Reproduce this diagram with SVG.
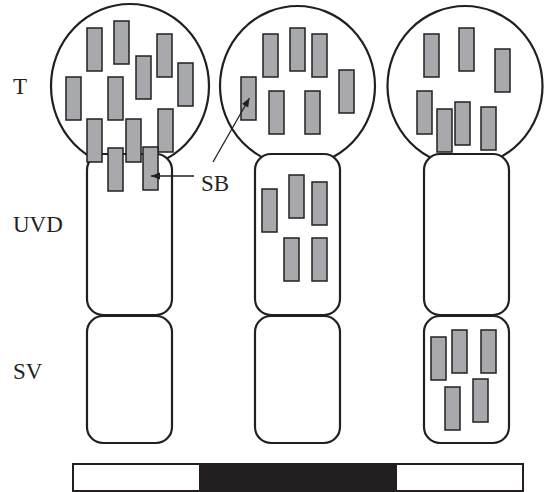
<svg xmlns="http://www.w3.org/2000/svg" width="544" height="492" viewBox="0 0 544 492">
<defs>
<style>
.cell{fill:#fff;stroke:#231f20;stroke-width:2.2}
.sb{fill:#a7a9ac;stroke:#231f20;stroke-width:1.5}
.lbl{font-family:"Liberation Serif","Times New Roman",serif;font-size:23px;fill:#231f20}
.arr{stroke:#231f20;stroke-width:1.3;fill:none}
</style>
<marker id="ah" viewBox="0 0 10 10" refX="10" refY="5" markerWidth="9" markerHeight="9" markerUnits="userSpaceOnUse" orient="auto">
<path d="M0,1 L10,5 L0,9 Z" fill="#231f20"/>
</marker>
<rect id="bar" class="sb" width="15" height="43"/>
</defs>
<rect width="544" height="492" fill="#fff"/>

<g id="t1"><ellipse class="cell" cx="130" cy="86" rx="79" ry="82"/></g>
<g id="t2"><ellipse class="cell" cx="297.5" cy="86" rx="77.5" ry="80"/></g>
<g id="t3"><ellipse class="cell" cx="465" cy="86" rx="77.5" ry="80"/></g>

<g id="uvd1"><rect class="cell" x="87" y="154" width="85" height="161" rx="16"/></g>
<g id="uvd2"><rect class="cell" x="255" y="154" width="85" height="161" rx="16"/></g>
<g id="uvd3"><rect class="cell" x="424" y="154" width="85" height="161" rx="16"/></g>

<g id="sv1"><rect class="cell" x="87" y="316" width="85" height="127" rx="16"/></g>
<g id="sv2"><rect class="cell" x="255" y="316" width="85" height="127" rx="16"/></g>
<g id="sv3"><rect class="cell" x="424" y="316" width="85" height="127" rx="16"/></g>

<g id="sb-t1">
<use href="#bar" x="87" y="28"/><use href="#bar" x="114" y="21"/><use href="#bar" x="157" y="34"/>
<use href="#bar" x="136" y="56"/><use href="#bar" x="178" y="63"/><use href="#bar" x="66" y="77"/>
<use href="#bar" x="108" y="77"/><use href="#bar" x="158" y="109"/><use href="#bar" x="87" y="119"/>
<use href="#bar" x="126" y="119"/><use href="#bar" x="108" y="148"/><use href="#bar" x="143" y="147"/>
</g>
<g id="sb-t2">
<use href="#bar" x="263" y="34"/><use href="#bar" x="290" y="28"/><use href="#bar" x="312" y="34"/>
<use href="#bar" x="339" y="70"/><use href="#bar" x="241" y="77"/><use href="#bar" x="269" y="91"/>
<use href="#bar" x="305" y="91"/>
</g>
<g id="sb-uvd2">
<use href="#bar" x="262" y="189"/><use href="#bar" x="289" y="175"/><use href="#bar" x="312" y="182"/>
<use href="#bar" x="284" y="238"/><use href="#bar" x="312" y="238"/>
</g>
<g id="sb-t3">
<use href="#bar" x="424" y="34"/><use href="#bar" x="459" y="28"/><use href="#bar" x="495" y="49"/>
<use href="#bar" x="417" y="91"/><use href="#bar" x="437" y="109"/><use href="#bar" x="455" y="102"/>
<use href="#bar" x="481" y="107"/>
</g>
<g id="sb-sv3">
<use href="#bar" x="431" y="337"/><use href="#bar" x="452" y="330"/><use href="#bar" x="481" y="330"/>
<use href="#bar" x="445" y="387"/><use href="#bar" x="473" y="379"/>
</g>

<g id="connectors">
<line class="arr" x1="194" y1="176" x2="151" y2="176" marker-end="url(#ah)"/>
<line class="arr" x1="213" y1="162" x2="249.5" y2="98" marker-end="url(#ah)"/>
</g>

<g id="labels">
<text class="lbl" x="13" y="94">T</text>
<text class="lbl" x="13" y="232">UVD</text>
<text class="lbl" x="13" y="379">SV</text>
<text class="lbl" x="201" y="191">SB</text>
</g>

<g id="scalebar">
<rect x="73" y="464" width="450" height="27" fill="#fff" stroke="#231f20" stroke-width="2"/>
<rect x="199" y="464" width="198" height="27" fill="#231f20"/>
</g>
</svg>
